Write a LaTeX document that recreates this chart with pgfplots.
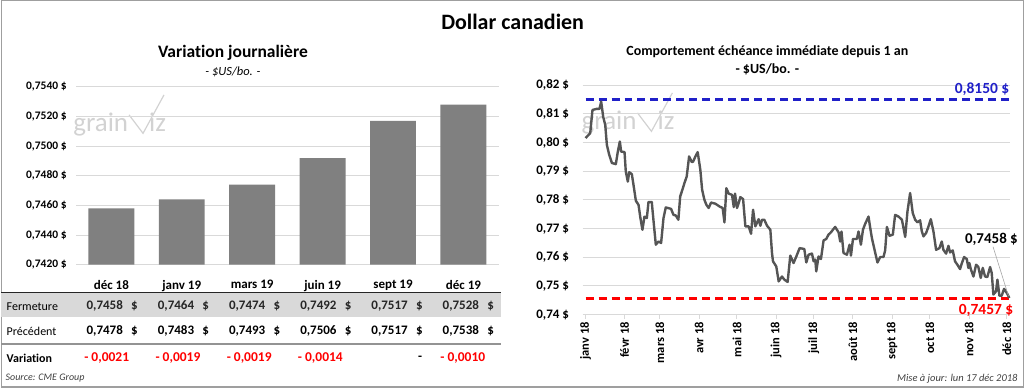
\documentclass[border=0pt]{standalone}
\usepackage{pgfplots}
\pgfplotsset{compat=1.18}
\usepackage{fontspec}
\setmainfont{Carlito}[Ligatures={NoCommon}]
\definecolor{bargray}{HTML}{808080}
\definecolor{linegray}{HTML}{555555}
\definecolor{gridgray}{HTML}{D9D9D9}
\definecolor{wm}{HTML}{D2D2D2}
\definecolor{myblue}{HTML}{2020C8}
\definecolor{myred}{HTML}{FF0000}
\newcommand{\fs}[1]{\fontsize{#1}{#1}\selectfont}
\newcommand{\logo}[2]{%
  \begin{scope}[shift={(#1,#2)}]
    \node[anchor=base west, inner sep=0, text=wm, font=\fs{27}] at (0,0) {grain};
    \draw[wm, line width=1.2pt] (56,17) -- (70,-1.5) -- (91,37);
    \node[anchor=base west, inner sep=0, text=wm, font=\fs{27}] at (76,0) {iz};
  \end{scope}}
\begin{document}
\begin{tikzpicture}[x=1pt,y=1pt]
\draw[gray!75, line width=1.2pt] (0.6,0.6) rectangle (1023.4,387.4);

% titles
\node[font=\bfseries\fs{22}] at (512,366) {Dollar canadien};
\node[font=\bfseries\fs{17.5}] at (232,335) {Variation journalière};
\node[font=\itshape\fs{12.5}] at (232,316) {- \$US/bo. -};
\node[font=\bfseries\fs{14}] at (767,336) {Comportement échéance immédiate depuis 1 an};
\node[font=\bfseries\fs{14}] at (767,319) {- \$US/bo. -};

\logo{72}{256}
\logo{581}{258}

% table background
\fill[gridgray] (0,70.5) rectangle (500,95);
\draw[black!85, line width=1.4pt] (0,95) -- (500,95);
\draw[gray!85, line width=2.4pt] (0,43.7) -- (500,43.7);

% left bar chart
\begin{axis}[at={(75pt,123pt)}, anchor=south west, scale only axis,
  width=423pt, height=178pt,
  xmin=-0.5, xmax=5.5, ymin=0.742, ymax=0.754,
  axis line style={draw=none}, major tick length=0pt,
  ymajorgrids, grid style={gridgray, line width=1pt},
  ytick={0.742,0.744,0.746,0.748,0.750,0.752,0.754},
  yticklabels={{0,7420 \$},{0,7440 \$},{0,7460 \$},{0,7480 \$},{0,7500 \$},{0,7520 \$},{0,7540 \$}},
  yticklabel style={font=\bfseries\fs{11.5}, xshift=-6pt},
  xtick={0,1,2,3,4,5},
  xticklabels={déc 18,janv 19,mars 19,juin 19,sept 19,déc 19},
  xticklabel style={font=\bfseries\fs{13}, yshift=-12pt},
  ybar, bar width=46pt, clip=false]
\addplot[fill=bargray, draw=none] coordinates {(0,0.7458)(1,0.7464)(2,0.7474)(3,0.7492)(4,0.7517)(5,0.7528)};
\end{axis}

% table text
\node[anchor=west, font=\fs{12}] at (2,81.3) {Fermeture};
\node[anchor=west, font=\fs{12}] at (2,56.3) {Précédent};
\node[anchor=west, font=\bfseries\fs{12}] at (2,29.7) {Variation};
\foreach \x/\s in {122/{0,7458},193.3/{0,7464},264.6/{0,7474},335.9/{0,7492},407.2/{0,7517},478.5/{0,7528}}{
  \node[anchor=east, inner sep=0, font=\bfseries\fs{13}, text=black!85] at (\x,81.3) {\s};
  \node[anchor=west, inner sep=0, font=\bfseries\fs{13}, text=black!85] at (\x+8,81.3) {\$};
}
\foreach \x/\s in {122/{0,7478},193.3/{0,7483},264.6/{0,7493},335.9/{0,7506},407.2/{0,7517},478.5/{0,7538}}{
  \node[anchor=east, inner sep=0, font=\bfseries\fs{13}] at (\x,56.3) {\s};
  \node[anchor=west, inner sep=0, font=\bfseries\fs{13}] at (\x+8,56.3) {\$};
}
\foreach \x/\s in {128.3/{- 0,0021},199.6/{- 0,0019},270.9/{- 0,0019},342.2/{- 0,0014},484.8/{- 0,0010}}{
  \node[anchor=east, inner sep=0, font=\bfseries\fs{13.5}, text=myred] at (\x,29.7) {\s};
}
\node[inner sep=0, font=\bfseries\fs{13}] at (419.3,29.7) {-};
\node[anchor=west, font=\itshape\fs{10}, text=black!75] at (1,9.5) {Source: CME Group};
\node[anchor=east, font=\itshape\fs{10.5}, text=black!75] at (1021,9) {Mise à jour: lun 17 déc 2018};

% right line chart
\begin{axis}[at={(582pt,73pt)}, anchor=south west, scale only axis,
  width=428pt, height=229.6pt,
  xmin=-2.4, xmax=336.5, ymin=0.74, ymax=0.82,
  axis line style={draw=none},
  ymajorgrids, grid style={gridgray, line width=1pt},
  ytick={0.74,0.75,0.76,0.77,0.78,0.79,0.80,0.81,0.82},
  yticklabels={{0,74 \$},{0,75 \$},{0,76 \$},{0,77 \$},{0,78 \$},{0,79 \$},{0,80 \$},{0,81 \$},{0,82 \$}},
  yticklabel style={font=\bfseries\fs{13}, xshift=-6pt},
  ytick style={draw=none},
  xtick={0,31,59,90,120,151,181,212,243,273,304,334},
  xticklabels={janv 18,févr 18,mars 18,avr 18,mai 18,juin 18,juil 18,août 18,sept 18,oct 18,nov 18,déc 18},
  xticklabel style={font=\bfseries\fs{12.5}, rotate=90, anchor=east},
  xtick pos=left, tick align=outside, major tick length=4pt,
  xtick style={gridgray, line width=1pt},
  clip=false]
\addplot[myblue, line width=2.6pt, dash pattern=on 8pt off 5pt] coordinates {(0,0.815)(336.5,0.815)};
\addplot[myred, line width=2.6pt, dash pattern=on 8pt off 5pt] coordinates {(0,0.7457)(336.5,0.7457)};
\addplot[linegray, line width=2.4pt, line join=round] coordinates {
(0,0.8016)(3.7,0.8033)(5.5,0.8114)(9,0.8118)(11,0.8118)(12.4,0.8143)(14,0.8090)(15.6,0.8062)
(16.9,0.7992)(18.8,0.7957)(20.9,0.7929)(24,0.7925)(25.6,0.7969)(27.2,0.8004)(28.2,0.7969)
(30.9,0.7967)(31.9,0.7899)(33.5,0.7864)(34.6,0.7897)(36.7,0.7890)(38,0.7853)(39.9,0.7797)
(42,0.7783)(43.5,0.7737)(45.1,0.7696)(46.7,0.7742)(48.6,0.7737)(49.9,0.7793)(52.5,0.7793)
(53.8,0.7731)(55.7,0.7644)(57.8,0.7655)(59.9,0.7650)(61.8,0.7737)(63.6,0.7774)(67.8,0.7769)
(69.7,0.7748)(71.5,0.7746)(73.6,0.7731)(75,0.7812)(76.8,0.7836)(78.4,0.7859)(80.2,0.7882)
(82.1,0.7952)(84.2,0.7932)(85.3,0.7934)(87.1,0.7952)(88.9,0.7967)(91,0.7905)(92.4,0.7836)
(94.2,0.7801)(95.8,0.7783)(97.6,0.7772)(99.5,0.7791)(102.9,0.7787)(106.3,0.7777)(108.7,0.7772)
(110.1,0.7722)(111.6,0.7841)(113.5,0.7822)(116.1,0.7818)(117.5,0.7775)(118.5,0.7822)(120.1,0.7772)
(121.4,0.7789)(122.7,0.7810)(124.9,0.7803)(126.7,0.7708)(129.3,0.7708)(131.2,0.7682)(132.8,0.7766)
(134.6,0.7708)(137.2,0.7733)(138.6,0.7710)(139.9,0.7731)(141.7,0.7731)(143.9,0.7710)(146.5,0.7696)
(147.8,0.7615)(148.6,0.7586)(151.2,0.7568)(153.1,0.7516)(155.7,0.7533)(157.6,0.7522)(160.2,0.7514)
(162.3,0.7606)(164.9,0.7580)(167.1,0.7603)(169.7,0.7632)(173.4,0.7629)(175,0.7582)(176.8,0.7609)
(179.5,0.7613)(180.8,0.7586)(182.1,0.7592)(182.9,0.7551)(184.7,0.7603)(186.6,0.7594)(188.7,0.7659)
(190.8,0.7664)(192.6,0.7679)(194.5,0.7687)(196.6,0.7699)(197.9,0.7706)(199.3,0.7696)(200.6,0.7687)
(201.9,0.7655)(202.9,0.7690)(204.5,0.7615)(207.2,0.7609)(209.3,0.7644)(210.4,0.7606)(212,0.7664)
(215.1,0.7664)(216.4,0.7690)(218.3,0.7644)(219.9,0.7696)(221.7,0.7717)(224.3,0.7742)(225.7,0.7702)
(227,0.7667)(228.8,0.7632)(231.4,0.7582)(233.6,0.7601)(236.2,0.7601)(237.5,0.7624)(238.9,0.7706)
(241,0.7675)(243.6,0.7679)(245.4,0.7748)(248.1,0.7742)(250.8,0.7731)(253.4,0.7671)(255.2,0.7760)
(257.3,0.7824)(259.4,0.7754)(261.3,0.7731)(263.1,0.7722)(265.2,0.7729)(266.6,0.7690)(267.9,0.7673)
(270,0.7685)(271.9,0.7708)(273.7,0.7733)(275.8,0.7690)(277.9,0.7626)(280.5,0.7632)(282.4,0.7655)
(283.7,0.7626)(285.8,0.7613)(287.7,0.7640)(289,0.7617)(291.1,0.7624)(292.9,0.7586)(294.8,0.7574)
(296.9,0.7559)(298.2,0.7578)(300.1,0.7601)(302.2,0.7594)(303.5,0.7563)(304.3,0.7580)(305.4,0.7559)
(307.5,0.7533)(309.6,0.7574)(311.4,0.7566)(313.3,0.7528)(314.9,0.7563)(316.7,0.7533)(318.5,0.7531)
(320.7,0.7566)(322,0.7545)(323.3,0.7470)(325.4,0.7481)(326.5,0.7522)(328.1,0.7466)(329.9,0.7466)
(331.8,0.7490)(333.9,0.7476)(336,0.7458)};
\end{axis}

% annotations
\node[anchor=east, inner sep=0, font=\bfseries\fs{15.5}, text=myblue] at (1009.5,298.7) {0,8150 \$};
\node[anchor=east, inner sep=0, font=\bfseries\fs{15.5}, text=myred] at (1013.5,77.3) {0,7457 \$};
\node[anchor=east, inner sep=0, font=\bfseries\fs{15}] at (1018,148) {0,7458 \$};
\draw[gray!70, line width=0.6pt] (993,141) -- (1008.5,91.5);
\end{tikzpicture}
\end{document}
